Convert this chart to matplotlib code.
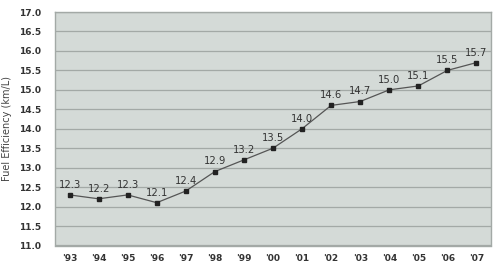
import matplotlib
matplotlib.use("Agg")
import matplotlib.pyplot as plt

years = ["'93", "'94", "'95", "'96", "'97", "'98", "'99", "'00", "'01", "'02", "'03", "'04", "'05", "'06", "'07"]
efficiency = [12.3, 12.2, 12.3, 12.1, 12.4, 12.9, 13.2, 13.5, 14.0, 14.6, 14.7, 15.0, 15.1, 15.5, 15.7]
yticks = [11.0, 11.5, 12.0, 12.5, 13.0, 13.5, 14.0, 14.5, 15.0, 15.5, 16.0, 16.5, 17.0]

fig = plt.figure(figsize=(4.95, 2.65), dpi=100)
ax = fig.add_axes([55/495, 1-245.5/265, 436/495, 233.5/265])
ax.set_facecolor("#d4dad7")
x = list(range(len(years)))
ax.plot(x, efficiency, color="#555555", lw=0.9, marker="s", ms=3, mfc="#222222", mec="#222222", zorder=3)
for xi, v in zip(x, efficiency):
    ax.text(xi, v + 0.13, f"{v:.1f}", ha="center", va="bottom", fontsize=7.2, color="#333333")
ax.set_xlim(-0.5, len(years) - 0.5)
ax.set_ylim(11.0, 17.0)
ax.set_yticks(yticks)
ax.set_yticklabels([f"{t:.1f}" for t in yticks], fontsize=6.5, color="#333333", fontweight="bold")
ax.set_xticks(x)
ax.set_xticklabels(years, fontsize=6.5, color="#333333", fontweight="bold")
ax.yaxis.grid(True, color="#a3a9a6", lw=0.9)
ax.set_axisbelow(True)
ax.tick_params(axis="x", length=0, pad=6)
ax.tick_params(axis="y", length=0, pad=10)
for s in ax.spines.values():
    s.set_color("#a3a9a6")
    s.set_linewidth(1)
ax.set_ylabel("Fuel Efficiency (km/L)", fontsize=7, color="#444444", labelpad=2)
ax.yaxis.set_label_coords(-43/436, 0.5)
fig.savefig("out.png", dpi=100)
